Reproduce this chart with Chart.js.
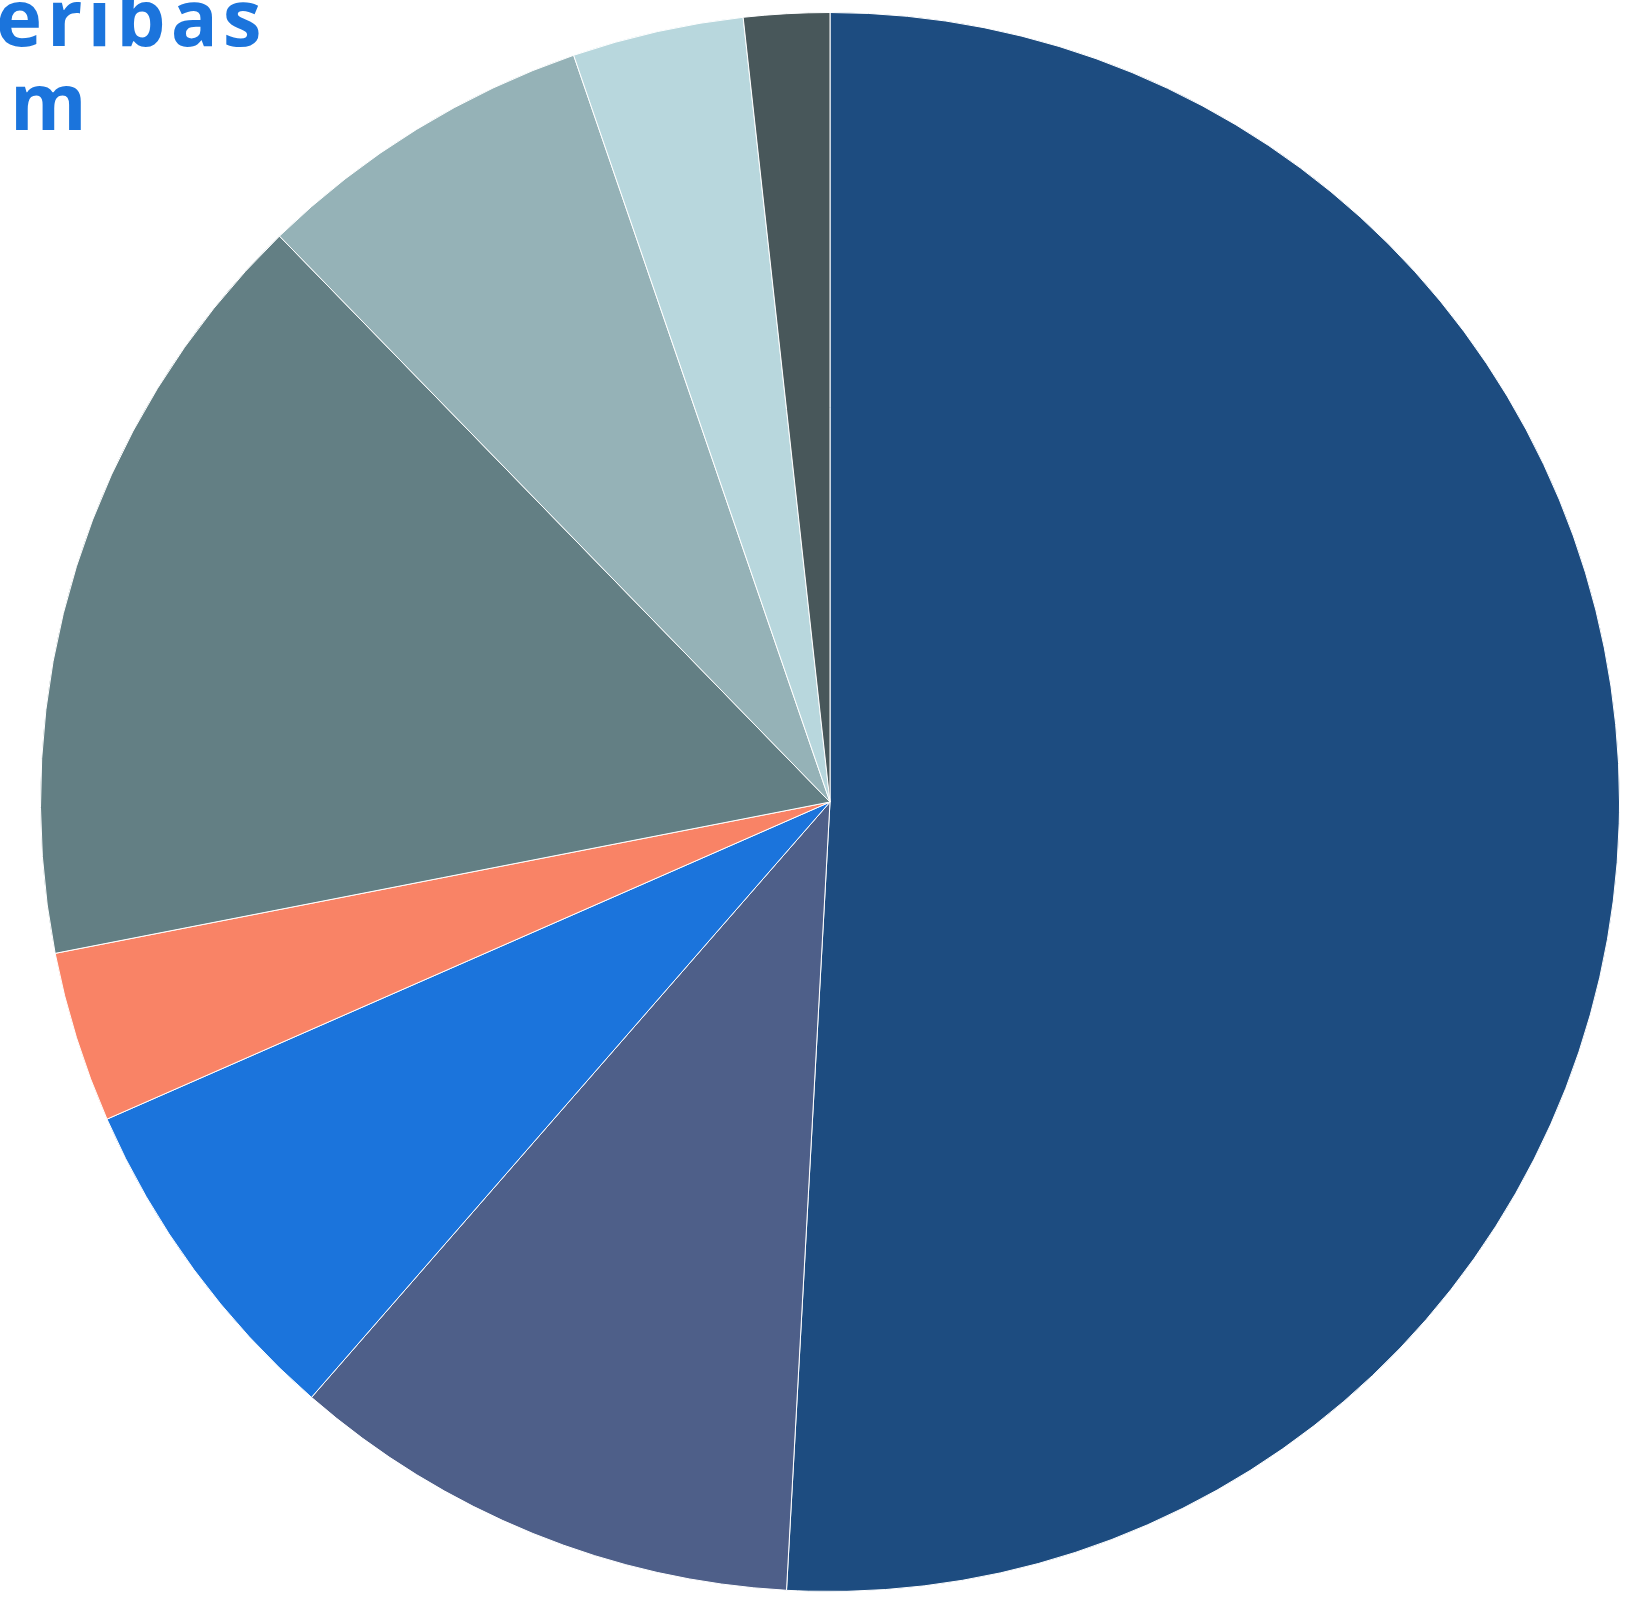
<!DOCTYPE html>
<html>
<head>
<meta charset="utf-8">
<script src="https://cdn.jsdelivr.net/npm/chart.js@4/dist/chart.umd.min.js"></script>
<style>
  html, body { margin: 0; padding: 0; background: #fff; overflow: hidden; }
  #pie { display: block; }
</style>
</head>
<body>
<canvas id="pie" width="1637" height="1601"></canvas>
<script>
// slice labels (only fragments are visible in the picture) and values
const labels = ['A', 'B', 'C', 'D', 'E', 'F', 'G', 'H']
const values = [29, 6, 4, 2, 9, 4, 2, 1]
const colors = ['#1d4c80', '#4e5f89', '#1b74dc', '#f98366', '#637f84', '#95b2b7', '#b8d7dd', '#48575a']
// clipped text lines at the top left corner
const cornerText = ['eribas', 'm']

//draws the cut-off blue text in the corner
const cornerTextPlugin = {
    id: 'cornerText',
    afterDraw(chart) {
        const ctx = chart.ctx
        ctx.save()
        ctx.fillStyle = '#1b74dc'
        ctx.font = 'bold 78px "Open Sans"'
        ctx.letterSpacing = '5px'
        ctx.textBaseline = 'alphabetic'
        ctx.fillText(cornerText[0], -4, 46)
        ctx.fillText(cornerText[1], 10, 130)
        ctx.restore()
    }
}

new Chart(document.getElementById('pie').getContext('2d'), {
    type: 'pie',
    data: {
        labels: labels,
        datasets: [{
            data: values,
            backgroundColor: colors,
            borderColor: '#ffffff',
            borderWidth: 1
        }]
    },
    options: {
        responsive: false,
        animation: false,
        layout: { padding: { top: 12, bottom: 9, left: 40, right: 17 } },
        plugins: {
            legend: { display: false },
            tooltip: { enabled: false }
        }
    },
    plugins: [cornerTextPlugin]
});
</script>
</body>
</html>
